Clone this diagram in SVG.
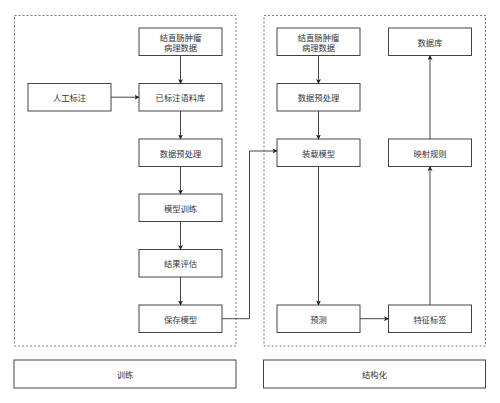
<svg xmlns="http://www.w3.org/2000/svg" width="500" height="403" viewBox="0 0 500 403">
<style>
.c{fill:none;stroke:#7a7a7a;stroke-width:1;stroke-dasharray:2 2}
.n{fill:#fff;stroke:#444;stroke-width:1}
.t{font-family:"Noto Sans CJK SC","Noto Sans",sans-serif;font-size:8.3px;fill:#333;text-anchor:middle;dominant-baseline:central}
.e{fill:none;stroke:#444;stroke-width:1;marker-end:url(#a)}
</style>
<defs>
<marker id="a" viewBox="0 0 10 10" refX="9" refY="5" markerWidth="5" markerHeight="5" markerUnits="userSpaceOnUse" orient="auto">
<path d="M0,0 L10,5 L0,10 L2.5,5 Z" fill="#222"/>
</marker>
</defs>
<rect width="500" height="403" fill="#fff"/>
<g id="containers">
<rect class="c" x="14.5" y="15.5" width="221.5" height="330.5"/>
<rect class="c" x="264" y="15.5" width="221.5" height="330.5"/>
</g>
<g id="label-train"><rect class="n" x="14" y="360" width="222" height="28"/><text class="t" x="125" y="374">训练</text></g>
<g id="label-struct"><rect class="n" x="263.5" y="360" width="222" height="28"/><text class="t" x="374.5" y="374">结构化</text></g>
<g id="L1"><rect class="n" x="139" y="28" width="83" height="27.5"/><text class="t" x="180.5" y="36.5">结直肠肿瘤</text><text class="t" x="180.5" y="47">病理数据</text></g>
<g id="manual"><rect class="n" x="28" y="83.5" width="83" height="27.5"/><text class="t" x="69.5" y="97.2">人工标注</text></g>
<g id="L2"><rect class="n" x="139" y="83.5" width="83" height="27.5"/><text class="t" x="180.5" y="97.2">已标注语料库</text></g>
<g id="L3"><rect class="n" x="139" y="139" width="83" height="27.5"/><text class="t" x="180.5" y="152.7">数据预处理</text></g>
<g id="L4"><rect class="n" x="139" y="194" width="83" height="27.5"/><text class="t" x="180.5" y="207.7">模型训练</text></g>
<g id="L5"><rect class="n" x="139" y="249.5" width="83" height="27.5"/><text class="t" x="180.5" y="263.2">结果评估</text></g>
<g id="L6"><rect class="n" x="139" y="305" width="83" height="27.5"/><text class="t" x="180.5" y="318.7">保存模型</text></g>
<g id="R1"><rect class="n" x="277" y="28" width="83" height="27.5"/><text class="t" x="318.5" y="36.5">结直肠肿瘤</text><text class="t" x="318.5" y="47">病理数据</text></g>
<g id="R2"><rect class="n" x="277" y="83.5" width="83" height="27.5"/><text class="t" x="318.5" y="97.2">数据预处理</text></g>
<g id="R3"><rect class="n" x="277" y="139" width="83" height="27.5"/><text class="t" x="318.5" y="152.7">装载模型</text></g>
<g id="R4"><rect class="n" x="277" y="305" width="83" height="27.5"/><text class="t" x="318.5" y="318.7">预测</text></g>
<g id="R5"><rect class="n" x="388.5" y="305" width="83" height="27.5"/><text class="t" x="430" y="318.7">特征标签</text></g>
<g id="R6"><rect class="n" x="388.5" y="139" width="83" height="27.5"/><text class="t" x="430" y="152.7">映射规则</text></g>
<g id="R7"><rect class="n" x="388.5" y="28" width="83" height="27.5"/><text class="t" x="430" y="41.7">数据库</text></g>
<g id="connectors">
<path class="e" d="M180.5,55.5 V83.5"/>
<path class="e" d="M111,97.2 H139"/>
<path class="e" d="M180.5,111 V139"/>
<path class="e" d="M180.5,166.5 V194"/>
<path class="e" d="M180.5,221.5 V249.5"/>
<path class="e" d="M180.5,277 V305"/>
<path class="e" d="M222,318.7 H249.5 V151 H277"/>
<path class="e" d="M318.5,55.5 V83.5"/>
<path class="e" d="M318.5,111 V139"/>
<path class="e" d="M318.5,166.5 V305"/>
<path class="e" d="M360,318.7 H388.5"/>
<path class="e" d="M430,305 V166.5"/>
<path class="e" d="M430,139 V55.5"/>
</g>
</svg>
